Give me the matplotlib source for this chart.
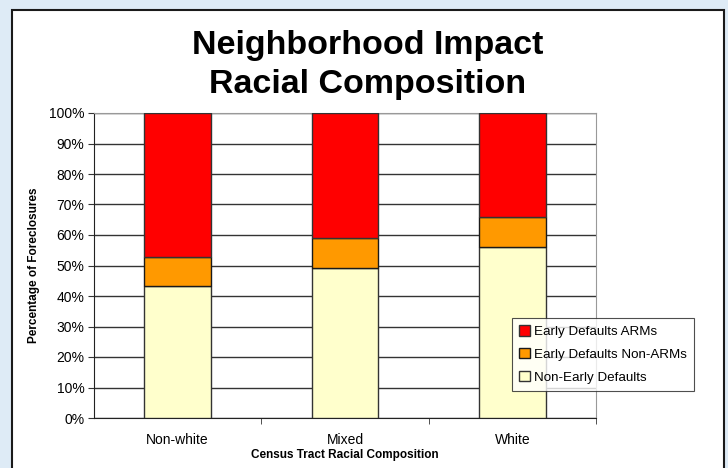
import matplotlib
matplotlib.use("Agg")
import matplotlib.pyplot as plt
import numpy as np
from matplotlib.patches import Rectangle

plt.rcParams['font.family'] = ['Liberation Sans', 'DejaVu Sans']

categories = ["Non-white", "Mixed", "White"]
non_early = [43.4, 49.1, 56.1]
early_non_arms = [9.4, 9.8, 9.9]
early_arms = [47.2, 41.1, 34.0]
series_labels = ["Early Defaults ARMs", "Early Defaults Non-ARMs", "Non-Early Defaults"]
colors = ["#FF0000", "#FF9900", "#FFFFCC"]

fig = plt.figure(figsize=(7.28, 4.68), dpi=100, facecolor="#DEEBF6")

# white slide panel with dark border
panel = Rectangle((12 / 728, -0.05), 712 / 728, (458 / 468) + 0.05,
                  transform=fig.transFigure, facecolor="white",
                  edgecolor="#1a1a1a", linewidth=1.5, zorder=0)
fig.patches.append(panel)

ax = fig.add_axes([94 / 728, 50 / 468, 502 / 728, 305 / 468])
ax.set_zorder(2)

x = np.arange(len(categories))
w = 0.4
b1 = np.array(non_early)
b2 = b1 + np.array(early_non_arms)
ax.bar(x, non_early, w, color=colors[2], edgecolor="#333333", lw=1, label=series_labels[2], zorder=3)
ax.bar(x, early_non_arms, w, bottom=b1, color=colors[1], edgecolor="#1a1a1a", lw=1, label=series_labels[1], zorder=3)
ax.bar(x, early_arms, w, bottom=b2, color=colors[0], edgecolor="#333333", lw=1, label=series_labels[0], zorder=3)

ax.set_xlim(-0.5, 2.5)
ax.set_ylim(0, 100)
ax.set_yticks(np.arange(0, 101, 10))
ax.set_yticklabels([f"{v}%" for v in range(0, 101, 10)], fontsize=10)
ax.set_xticks(x)
ax.set_xticklabels(categories, fontsize=10)
ax.tick_params(axis='x', length=0, pad=11)
ax.set_xticks([0.5, 1.5, 2.5], minor=True)
ax.tick_params(axis='x', which='minor', length=4, direction='out', color='#333333')
ax.tick_params(axis='y', length=4, direction='out', color='#333333', pad=3)
ax.yaxis.grid(True, color="#333333", lw=1)
ax.set_axisbelow(True)
ax.spines['top'].set_color("#999999")
ax.spines['right'].set_color("#999999")
ax.spines['left'].set_color("#222222")
ax.spines['bottom'].set_color("#222222")

ax.set_ylabel("Percentage of Foreclosures", fontsize=8.5, fontweight='bold', labelpad=6)
ax.set_xlabel("Census Tract Racial Composition", fontsize=8.5, fontweight='bold', labelpad=1)

fig.text(368 / 728, 1 - 65 / 468, "Neighborhood Impact\nRacial Composition", ha='center', va='center',
         fontsize=24.5, fontweight='bold', linespacing=1.3)

handles, labels = ax.get_legend_handles_labels()
leg = fig.legend(handles[::-1], labels[::-1], loc='upper left',
                 bbox_to_anchor=(512 / 728, 1 - 318 / 468), fontsize=9.6,
                 frameon=True, fancybox=False, edgecolor="#222222",
                 handlelength=0.8, handleheight=0.8, handletextpad=0.3,
                 labelspacing=0.75, borderpad=0.55, borderaxespad=0)
leg.get_frame().set_linewidth(0.8)
leg.set_zorder(5)

fig.savefig("out.png", dpi=100, facecolor=fig.get_facecolor())
